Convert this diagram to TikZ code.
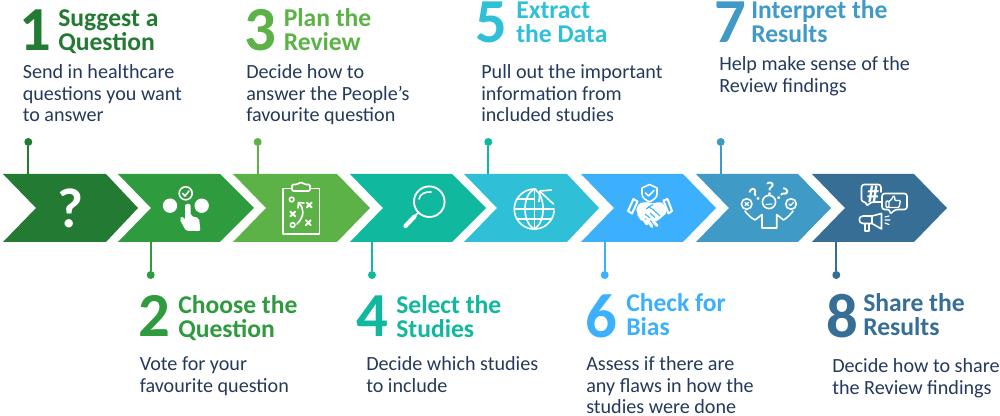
\documentclass[tikz,border=0pt]{standalone}
\usepackage{fontspec}
\setmainfont{Carlito}
\usetikzlibrary{arrows.meta}
\definecolor{cA}{HTML}{237A32}
\definecolor{cB}{HTML}{2F9B3F}
\definecolor{cC}{HTML}{5CB247}
\definecolor{cD}{HTML}{10B89E}
\definecolor{cE}{HTML}{2FC0D8}
\definecolor{cF}{HTML}{3CB0FC}
\definecolor{cG}{HTML}{3F9AC6}
\definecolor{cH}{HTML}{376E96}
\definecolor{ink}{HTML}{24395C}
\newcommand{\Chev}[5]{\fill[#2] (#3,174) -- (#4,174) -- (#5,208) -- (#4,242) -- (#3,242) -- ([xshift=24.75pt]#3,208) -- cycle;\coordinate (#1) at (#3,208);}
\newcommand{\Link}[5]{% name colour x ydot yedge
\node[dotn,fill=#2] (#1d) at (#3,#4) {};\coordinate (#1e) at (#3,#5);\draw[#2,line width=1.5pt] (#1d) -- (#1e);}
\newcommand{\Lines}[1]{\vtop{\let\\\cr\halign{##\hfil\cr#1\cr}}}
\newcommand{\Num}[5]{\node[numn,text=#2] (#1) at (#3,#4) {#5};}
\newcommand{\Head}[5]{\node[headn,text=#2] (#1) at (#3,#4) {\Lines{#5}};}
\newcommand{\Body}[4]{\node[bodyn] (#1) at (#2,#3) {\Lines{#4}};}
\tikzset{
 dotn/.style={circle,minimum size=6pt,inner sep=0pt},
 numn/.style={anchor=base west,inner sep=0pt,xshift=-1pt,font=\fontsize{47}{47}\selectfont\bfseries},
 headn/.style={anchor=base west,inner sep=0pt,yshift=-0.6pt,font=\fontsize{19.2}{17.5}\selectfont\bfseries},
 bodyn/.style={anchor=base west,inner sep=0pt,text=ink,font=\fontsize{15.1}{16.1}\selectfont},
 ic/.style={draw=white,line width=1.2pt,line cap=round,line join=round},
}
\begin{document}
\begin{tikzpicture}[x=0.75pt,y=-0.75pt]
\useasboundingbox (0,0) rectangle (1000,416);
\Chev{s1}{cA}{3}{106}{138}
\Chev{s2}{cB}{118}{220}{254}
\Chev{s3}{cC}{233}{337}{370}
\Chev{s4}{cD}{350}{452}{486}
\Chev{s5}{cE}{464}{567}{599}
\Chev{s6}{cF}{581}{683}{716}
\Chev{s7}{cG}{696}{798}{831}
\Chev{s8}{cH}{812}{914}{947}
% connectors
\Link{la}{cA}{28.3}{142}{174}
\Link{lc}{cC}{257.7}{142}{174}
\Link{le}{cD}{488.3}{142}{174}
\Link{lg}{cG}{720.7}{142}{174}
\Link{lb}{cB}{150.7}{275}{242}
\Link{ld}{cD}{372}{275}{242}
\Link{lf}{cF}{604.7}{275}{242}
\Link{lh}{cH}{836.3}{275}{242}
% texts
\Num{n1}{cA}{21}{51}{1}
\Head{h1}{cA}{58}{26}{Suggest a\\Question}
\Body{b1}{22.5}{79}{Send in healthcare\\questions you want\\to answer}
\Num{n3}{cC}{246}{51}{3}
\Head{h3}{cC}{283.5}{26}{Plan the\\Review}
\Body{b3}{246}{79}{Decide how to\\answer the People’s\\favourite question}
\Num{n5}{cE}{477}{43}{5}
\Head{h5}{cE}{516}{18}{Extract\\the Data}
\Body{b5}{481}{79}{Pull out the important\\information from\\included studies}
\Num{n7}{cG}{716}{43}{7}
\Head{h7}{cG}{751}{18}{Interpret the\\Results}
\Body{b7}{719}{71}{Help make sense of the\\Review findings}
\Num{n2}{cB}{140}{337}{2}
\Head{h2}{cB}{178}{313}{Choose the\\Question}
\Body{b2}{139.5}{371}{Vote for your\\favourite question}
\Num{n4}{cD}{358}{337}{4}
\Head{h4}{cD}{396}{313}{Select the\\Studies}
\Body{b4}{366}{371}{Decide which studies\\to include}
\Num{n6}{cF}{587}{338}{6}
\Head{h6}{cF}{626}{311}{Check for\\Bias}
\Body{b6}{586}{371}{Assess if there are\\any flaws in how the\\studies were done}
\Num{n8}{cH}{828}{338}{8}
\Head{h8}{cH}{863}{311}{Share the\\Results}
\Body{b8}{832}{373}{Decide how to share\\the Review findings}
% icon 1
\node[text=white,inner sep=0pt,font=\fontsize{42}{42}\selectfont\bfseries] (q) at (70.5,208) {?};
% icon 2
\fill[white] (170,205.7) circle[radius=7.2] (201.7,205.7) circle[radius=7.2];
\draw[ic] (185.7,193.3) circle[radius=6.5];
\draw[ic] (182.7,193.5) -- (185,196) -- (189,191);
\fill[white,rounded corners=1.5pt] (185,204) -- (190.7,204) -- (190.7,216) -- (199,218) -- (200.5,231) -- (186,231) -- (179.5,219) -- (182,216) -- (185,220) -- cycle;
% icon 3
\draw[ic] (282.7,188.5) rectangle (319.3,234.3);
\draw[ic,fill=cC,rounded corners=1pt] (292,191) -- (292,184.5) -- (297,184.5) -- (301,182) -- (305,184.5) -- (310,184.5) -- (310,191) -- cycle;
\draw[ic] (291.7,199.5) circle[radius=2.3] (292.7,225) circle[radius=2.3];
\foreach \p/\q in {309.3/205,292.7/214,308.3/222.7}{\draw[ic,line width=1.4pt] (\p-2.5,\q-2.5) -- (\p+2.5,\q+2.5) (\p-2.5,\q+2.5) -- (\p+2.5,\q-2.5);}
\draw[ic] (297,224) .. controls (305,216) and (304,208) .. (299,203);
\draw[ic] (298,208) -- (298.5,202.5) -- (304,203);
% icon 4
\draw[ic,line width=1.4pt] (429.3,201.7) circle[radius=15.3];
\draw[ic] (419,199) .. controls (420,194) and (425,191.5) .. (431,192);
\draw[ic] (418.5,212.5) -- (415,216);
\draw[white,line width=3.2pt,line cap=round] (414.5,216.5) -- (405.5,226);
% icon 5
\draw[ic] (536,189.2) arc[start angle=85,end angle=355,x radius=20,y radius=-20];
\draw[ic] (534.3,189) -- (534.3,229);
\draw[ic] (534,189) .. controls (522,196) and (522,222) .. (534,229);
\draw[ic] (534.5,189) .. controls (546,196) and (546,222) .. (534.5,229);
\draw[ic] (514.5,209) -- (554,209) (517,199) -- (534,199) (517,219) -- (551,219);
\draw[ic] (553.5,204) -- (540,191.5);
\draw[ic] (539,201.5) -- (540,191) -- (551.5,190);
% icon 6
\draw[ic] (649.5,184.5) -- (657,188) -- (657,194) .. controls (657,198) and (653,200) .. (649.5,202) .. controls (646,200) and (642,198) .. (642,194) -- (642,188) -- cycle;
\draw[ic] (645.5,193) -- (648.5,196) -- (654,190.5);
\draw[ic,line width=1.5pt] (633.5,199) -- (637.5,201.5) -- (632,213.5) -- (628,211) -- cycle;
\draw[ic,line width=1.5pt] (663.5,200.5) -- (667.5,199) -- (672,211) -- (668.5,213.5) -- cycle;
\fill[white,rounded corners=1.5pt] (639,203) -- (648,202) -- (653,204) -- (659,201.5) -- (664,204) -- (667.5,212) -- (660,219) -- (655,222) -- (644,218) -- (635.5,211.5) -- cycle;
\draw[cF,line width=.8pt] (648,206.5) -- (653,209.5) -- (660,216) (653,204.5) -- (646,209) (645,214) -- (650,218) (650,213) -- (655,217.5);
\draw[white,line width=2.2pt,line cap=round] (638.5,214) -- (642,219.5) (642.5,218) -- (647,224) (647.5,220) -- (652,226.5) (653,221) -- (657,225.5);
% icon 7
\draw[ic] (769,202) circle[radius=6.6];
\draw[ic,line width=.8pt] (766,204.5) -- (772,204);
\foreach \p/\q/\r in {770/188.5/0,755/194.5/40,782.5/194.5/-40}{\node[text=white,inner sep=0pt,rotate=\r,font=\fontsize{14.5}{14.5}\selectfont\bfseries] at (\p,\q) {?};}
\draw[ic] (746.7,204) circle[radius=5.3] (791,204) circle[radius=5.3];
\draw[ic,line width=1pt] (745,202.5) -- (748.5,205.5) (745,205.5) -- (748.5,202.5);
\draw[ic,line width=1pt] (789,204) -- (790.5,205.5) -- (793.5,202.5);
\draw[ic] (745,211) .. controls (747,214) and (751,218) .. (755,220) -- (762,214.5) -- (762,228) -- (776.7,228) -- (776.7,214.5) -- (783.5,220) .. controls (787,218) and (791,214) .. (793,211);
% icon 8
\draw[ic,rounded corners=2pt] (881,192) -- (881,184.5) -- (861.5,184.5) -- (861.5,202) -- (866.5,202) -- (866.5,206.5) -- (871,202) -- (881,202);
\node[text=white,inner sep=0pt,font=\fontsize{18}{18}\selectfont\bfseries] (hash) at (873,194) {\#};
\draw[ic,rounded corners=2pt] (882,193.5) -- (907,193.5) -- (907,209.5) -- (895,209.5) -- (890,214.5) -- (890,209.5) -- (882,209.5) -- cycle;
\draw[ic,line width=1pt,rounded corners=.8pt] (886,201) rectangle (889,207.5);
\draw[ic,line width=1pt,rounded corners=.8pt] (889,201.5) -- (892,199) -- (893.5,195.5) -- (895,197) -- (894.5,200.5) -- (900.5,200.5) -- (899,207.5) -- (889,207.5);
\draw[ic] (881.5,213.5) -- (881.5,229) -- (872,223.5) -- (863,223.5) .. controls (858,223.5) and (858,216) .. (863,216) -- (872,216) -- cycle;
\draw[ic] (872,216) -- (872,223.5);
\draw[ic] (865,224) -- (865,231) -- (869,231) -- (869,224);
\draw[ic,line width=.9pt] (885,217) -- (889,216) (885,220) -- (890,220) (885,223) -- (889,224.5);
\end{tikzpicture}
\end{document}
